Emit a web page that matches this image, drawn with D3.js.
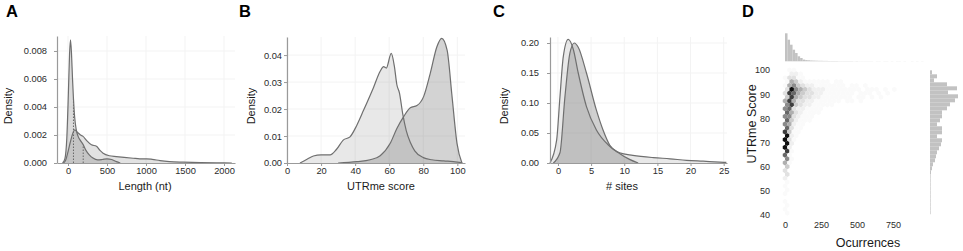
<!DOCTYPE html>
<html>
<head>
<meta charset="utf-8">
<script src="https://cdn.jsdelivr.net/npm/d3@7"></script>
<style>
  body { margin: 0; background: #fff; }
  svg text { font-family: Arial, "Liberation Sans", sans-serif; }
</style>
</head>
<body>
<svg id="fig" width="963" height="251"></svg>
<script>
// ---- data ----

// A: 3'UTR length densities [length, density]
const lengthNarrow = [[-70,0],[-40,0.0003],[-15,0.0018],[5,0.005],[20,0.0078],[32,0.0088],[45,0.0078],[58,0.006],[70,0.0046],[85,0.0033],[105,0.0024],[130,0.0019],[160,0.0016],[195,0.0013],[230,0.0009],[270,0.0006],[320,0.00035],[380,0.00022],[440,0.00025],[500,0.0003],[560,0.00025],[620,0.0001],[670,0]];
const lengthWide = [[-60,0],[-30,0.0002],[0,0.0008],[30,0.0015],[60,0.0021],[86,0.00236],[120,0.0022],[160,0.002],[193,0.0019],[240,0.0016],[300,0.0013],[365,0.0012],[410,0.0009],[450,0.0007],[530,0.00052],[620,0.00046],[720,0.0004],[835,0.00034],[920,0.0003],[1008,0.0003],[1080,0.00026],[1180,0.00017],[1300,0.0001],[1480,0.00006],[1700,0.00003],[2000,0.00001],[2100,0]];
const lengthQuartiles = [[70, 0.0046], [195, 0.0013]];

// B: UTRme score densities [score, density]
const scoreLow = [[7.6,0],[12,0.0015],[15.5,0.0026],[20,0.003],[25.3,0.003],[29,0.005],[33,0.0085],[37,0.0097],[41,0.014],[45,0.0196],[50.8,0.028],[54.7,0.034],[56.7,0.0357],[58.3,0.0352],[61.2,0.0406],[63,0.036],[64.5,0.029],[66,0.026],[68,0.018],[70,0.012],[72.5,0.0075],[75,0.0045],[80,0.002],[85,0.0012],[92,0.0008],[100,0.0003],[103,0]];
const scoreHigh = [[30,0],[41,0.0005],[48.8,0.0012],[54.7,0.0027],[60.6,0.0073],[64.5,0.0128],[68.4,0.0171],[72.4,0.0205],[76.3,0.0213],[80.2,0.0246],[84.1,0.0332],[88,0.0431],[90.8,0.0462],[94,0.0418],[96.9,0.0246],[99.8,0.0073],[102.7,0]];

// C: number of sites densities [sites, density]
const sitesTail = [[-1.2,0],[-0.2,0.038],[0.3,0.11],[0.8,0.177],[1.55,0.206],[2.3,0.19],[3.06,0.15],[4.3,0.094],[5.8,0.055],[7.6,0.03],[9.3,0.017],[11.3,0.0128],[14.4,0.009],[16.9,0.007],[19.4,0.0045],[21.9,0.003],[24.4,0.0015],[25.4,0.001]];
const sitesShort = [[-0.7,0],[0.3,0.017],[1.05,0.11],[1.8,0.183],[2.46,0.2],[3.06,0.193],[4.3,0.15],[5.8,0.088],[6.8,0.055],[7.8,0.03],[9.3,0.016],[10.8,0.006],[12.1,0]];

// D: hexbin of occurrences vs UTRme score (rows from top, intensity 0-9)
const hexScores = [100,98.4,96.8,95.2,93.6,92,90.4,88.8,87.2,85.6,84,82.4,80.8,79.2,77.6,76,74.4,72.8,71.2,69.6,68,66.4,64.8,63.2,61.6,60,58.4,56.8,55.2,53.6,52,50.4,48.8,47.2,45.6,44,42.4,40.8];
const hexRows = [
  [0,1,1],
  [0,2,2,1],
  [1,3,3,1,1],
  [1,5,4,2,1,1,1,1,1,1,0,1,1],
  [1,5,6,4,3,2,2,1,1,1,1,1,1,1,0,1,1,0,1],
  [3,9,6,5,4,3,2,2,2,1,1,1,1,1,1,1,1,0,1,1,1,0,1,0,1],
  [3,8,7,5,4,3,3,2,2,1,1,1,1,1,1,1,0,1,1,1,0,1,0,1],
  [4,8,5,4,3,3,2,2,1,1,1,1,1,1,1,0,1,1,0,1,0,1],
  [5,8,5,3,3,2,2,1,1,1,1,1,1,0,1,1,0,1],
  [6,8,4,3,2,2,1,1,1,1,1],
  [6,7,3,2,2,1,1,1,1],
  [7,5,3,2,1,1,1,1],
  [6,6,3,2,1,1,1],
  [7,4,2,1,1,1],
  [6,5,2,1,1],
  [7,3,1,1],
  [8,4,1,1],
  [9,2,1],
  [9,3,1],
  [9,2],
  [9,2],
  [8,1],
  [7,1],
  [6,1],
  [5,1],
  [4],
  [3],
  [3],
  [2],
  [1],
  [1],
  [1],
  [1],
  [0],
  [1],
  [1],
  [1],
  [1]
];
// marginal histograms
const occBinWidth = 17.5;
const occCounts = [280,216,166,116,83,50,33,17,12,10,8,7,6,5,5,4,4,3,3,3,3,2,2,2,2,2,2,1,2,1,1,1,1,1,1,0,1,1,0,1,1,0,1,0,1,1,0,1,0,0,1,0,1,0,1];
const scoreBinStart = 40.3, scoreBinWidth = 1.655;
const scoreCounts = [3,2,2,3,2,3,3,3,4,5,10,20,30,50,60,70,90,110,120,70,120,120,70,100,120,120,170,200,250,280,180,270,170,40,70,20];

// ---- drawing ----
const svg = d3.select('#fig');

function styleAxis(sel) {
	sel.select('.domain').attr('stroke', '#9a9a9a').attr('stroke-width', 1.2);
	sel.selectAll('.tick line').attr('stroke', '#9a9a9a');
	sel.selectAll('.tick text').attr('fill', '#2b2b2b').style('font-size', '9.3px');
}

function drawDensityPanel(cfg) {
	const g = svg.append('g');
	const x = d3.scaleLinear().domain(cfg.xDomain).range([cfg.left, cfg.right]);
	const y = d3.scaleLinear().domain(cfg.yDomain).range([cfg.bottom, cfg.top]);

	// faint grid
	g.append('g').selectAll('line').data(cfg.yTicks.slice(1)).join('line')
		.attr('x1', cfg.left).attr('x2', cfg.right)
		.attr('y1', d => y(d)).attr('y2', d => y(d))
		.attr('stroke', '#f3f3f3');
	g.append('g').selectAll('line').data(cfg.xTicks).join('line')
		.attr('x1', d => x(d)).attr('x2', d => x(d))
		.attr('y1', cfg.top).attr('y2', cfg.bottom)
		.attr('stroke', '#f3f3f3');

	const area = d3.area().curve(d3.curveMonotoneX)
		.x(d => x(d[0])).y0(y(0)).y1(d => y(d[1]));
	const line = d3.line().curve(d3.curveMonotoneX)
		.x(d => x(d[0])).y(d => y(d[1]));

	cfg.series.forEach(s => {
		g.append('path').datum(s.values).attr('d', area).attr('fill', s.fill);
	});
	(cfg.dotted || []).forEach(d => {
		g.append('line')
			.attr('x1', x(d[0])).attr('x2', x(d[0]))
			.attr('y1', y(0)).attr('y2', y(d[1]))
			.attr('stroke', '#666').attr('stroke-width', 1).attr('stroke-dasharray', '1.5,1.5');
	});
	cfg.series.forEach(s => {
		g.append('path').datum(s.values).attr('d', line)
			.attr('fill', 'none').attr('stroke', '#6f6f6f').attr('stroke-width', 1.2);
	});

	// axes
	g.append('g').attr('transform', `translate(0,${cfg.bottom})`)
		.call(d3.axisBottom(x).tickValues(cfg.xTicks).tickFormat(d3.format('d')).tickSize(3).tickSizeOuter(0).tickPadding(1))
		.call(styleAxis);
	g.append('g').attr('transform', `translate(${cfg.left},0)`)
		.call(d3.axisLeft(y).tickValues(cfg.yTicks).tickFormat(d3.format(cfg.yFormat)).tickSize(3).tickSizeOuter(0).tickPadding(cfg.yPad))
		.call(styleAxis);

	// labels
	g.append('text').attr('x', cfg.xLabelX).attr('y', 190)
		.attr('text-anchor', 'middle').attr('font-size', 11).attr('fill', '#1a1a1a')
		.text(cfg.xLabel);
	g.append('text').attr('transform', `translate(${cfg.yLabelX},106) rotate(-90)`)
		.attr('text-anchor', 'middle').attr('dominant-baseline', 'central')
		.attr('font-size', 11).attr('fill', '#1a1a1a')
		.text('Density');
	g.append('text').attr('x', cfg.letterX).attr('y', 17)
		.attr('font-size', 16.5).attr('font-weight', 'bold').attr('fill', '#000')
		.text(cfg.letter);
}

drawDensityPanel({
	letter: 'A', letterX: 6,
	left: 57, right: 235, top: 36, bottom: 163,
	xDomain: [-141, 2141], yDomain: [0, 0.00907],
	xTicks: [0, 500, 1000, 1500, 2000], yTicks: [0, 0.002, 0.004, 0.006, 0.008],
	yFormat: '.3f', yPad: 7,
	xLabel: 'Length (nt)', xLabelX: 145, yLabelX: 8,
	series: [
		{ values: lengthWide, fill: 'rgba(110,110,110,0.2)' },
		{ values: lengthNarrow, fill: 'rgba(110,110,110,0.25)' }
	],
	dotted: lengthQuartiles
});

drawDensityPanel({
	letter: 'B', letterX: 239,
	left: 287, right: 465, top: 37, bottom: 163,
	xDomain: [0, 104.5], yDomain: [0, 0.0467],
	xTicks: [0, 20, 40, 60, 80, 100], yTicks: [0, 0.01, 0.02, 0.03, 0.04],
	yFormat: '.2f', yPad: 2,
	xLabel: 'UTRme score', xLabelX: 381, yLabelX: 251,
	series: [
		{ values: scoreLow, fill: 'rgba(130,130,130,0.18)' },
		{ values: scoreHigh, fill: 'rgba(110,110,110,0.3)' }
	]
});

drawDensityPanel({
	letter: 'C', letterX: 493,
	left: 550, right: 727, top: 37, bottom: 163,
	xDomain: [-1.2, 25.5], yDomain: [0, 0.21],
	xTicks: [0, 5, 10, 15, 20, 25], yTicks: [0, 0.05, 0.1, 0.15, 0.2],
	yFormat: '.2f', yPad: 8,
	xLabel: '# sites', xLabelX: 622, yLabelX: 504,
	series: [
		{ values: sitesTail, fill: 'rgba(130,130,130,0.18)' },
		{ values: sitesShort, fill: 'rgba(110,110,110,0.32)' }
	]
});

// ---- panel D: joint hexbin plot ----
const gD = svg.append('g');
const xD = d3.scaleLinear().domain([-25, 975]).range([781.4, 925.4]);
const yD = d3.scaleLinear().domain([38.5, 102]).range([218.6, 65.2]);
const hexShade = d3.scalePow().exponent(1.4).domain([0, 9]).range([0, 0.95]);
const hexColor = v => d3.interpolateGreys(hexShade(v));

const hexR = 2.6;
const hexPath = 'M' + d3.range(6).map(k => {
	const a = Math.PI / 3 * k + Math.PI / 6;
	return [hexR * Math.cos(a), hexR * Math.sin(a)];
}).join('L') + 'Z';

const hexCells = [];
hexRows.forEach((row, r) => {
	row.forEach((v, c) => {
		if (v > 0) hexCells.push({ occ: c * 31 + (r % 2 ? 15.5 : 0), score: hexScores[r], v: v });
	});
});

gD.append('g').selectAll('path').data(hexCells).join('path')
	.attr('d', hexPath)
	.attr('transform', d => `translate(${xD(d.occ)},${yD(d.score)})`)
	.attr('fill', d => hexColor(d.v));

// top marginal histogram
const hTop = d3.scaleLinear().domain([0, 280]).range([61.3, 33.3]);
gD.append('g').selectAll('rect').data(occCounts).join('rect')
	.attr('x', (d, i) => xD(i * occBinWidth))
	.attr('width', (d, i) => xD((i + 1) * occBinWidth) - xD(i * occBinWidth))
	.attr('y', d => hTop(d))
	.attr('height', d => hTop(0) - hTop(d))
	.attr('fill', '#c2c2c2');

// right marginal histogram
const wRight = d3.scaleLinear().domain([0, 280]).range([930, 958]);
gD.append('g').selectAll('rect').data(scoreCounts).join('rect')
	.attr('x', wRight(0))
	.attr('y', (d, i) => yD(scoreBinStart + (i + 1) * scoreBinWidth))
	.attr('height', (d, i) => yD(scoreBinStart + i * scoreBinWidth) - yD(scoreBinStart + (i + 1) * scoreBinWidth))
	.attr('width', d => Math.max(wRight(d) - wRight(0), 0.6))
	.attr('fill', '#c2c2c2');

// axes without spines
const axD = gD.append('g').attr('transform', 'translate(781,0)')
	.call(d3.axisLeft(yD).tickValues([40, 50, 60, 70, 80, 90, 100]).tickSize(0).tickPadding(11));
axD.select('.domain').remove();
axD.selectAll('.tick text').attr('fill', '#2b2b2b').style('font-size', '9px');

const axDx = gD.append('g').attr('transform', 'translate(0,219)')
	.call(d3.axisBottom(xD).tickValues([0, 250, 500, 750]).tickSize(0).tickPadding(3));
axDx.select('.domain').remove();
axDx.selectAll('.tick text').attr('fill', '#2b2b2b').style('font-size', '9px');

gD.append('text').attr('x', 868).attr('y', 247)
	.attr('text-anchor', 'middle').attr('font-size', 12.5).attr('fill', '#1a1a1a')
	.text('Ocurrences');
gD.append('text').attr('transform', 'translate(752,124) rotate(-90)')
	.attr('text-anchor', 'middle').attr('dominant-baseline', 'central')
	.attr('font-size', 12.5).attr('fill', '#1a1a1a')
	.text('UTRme Score');
gD.append('text').attr('x', 742).attr('y', 17)
	.attr('font-size', 16.5).attr('font-weight', 'bold').attr('fill', '#000')
	.text('D');
</script>
</body>
</html>
